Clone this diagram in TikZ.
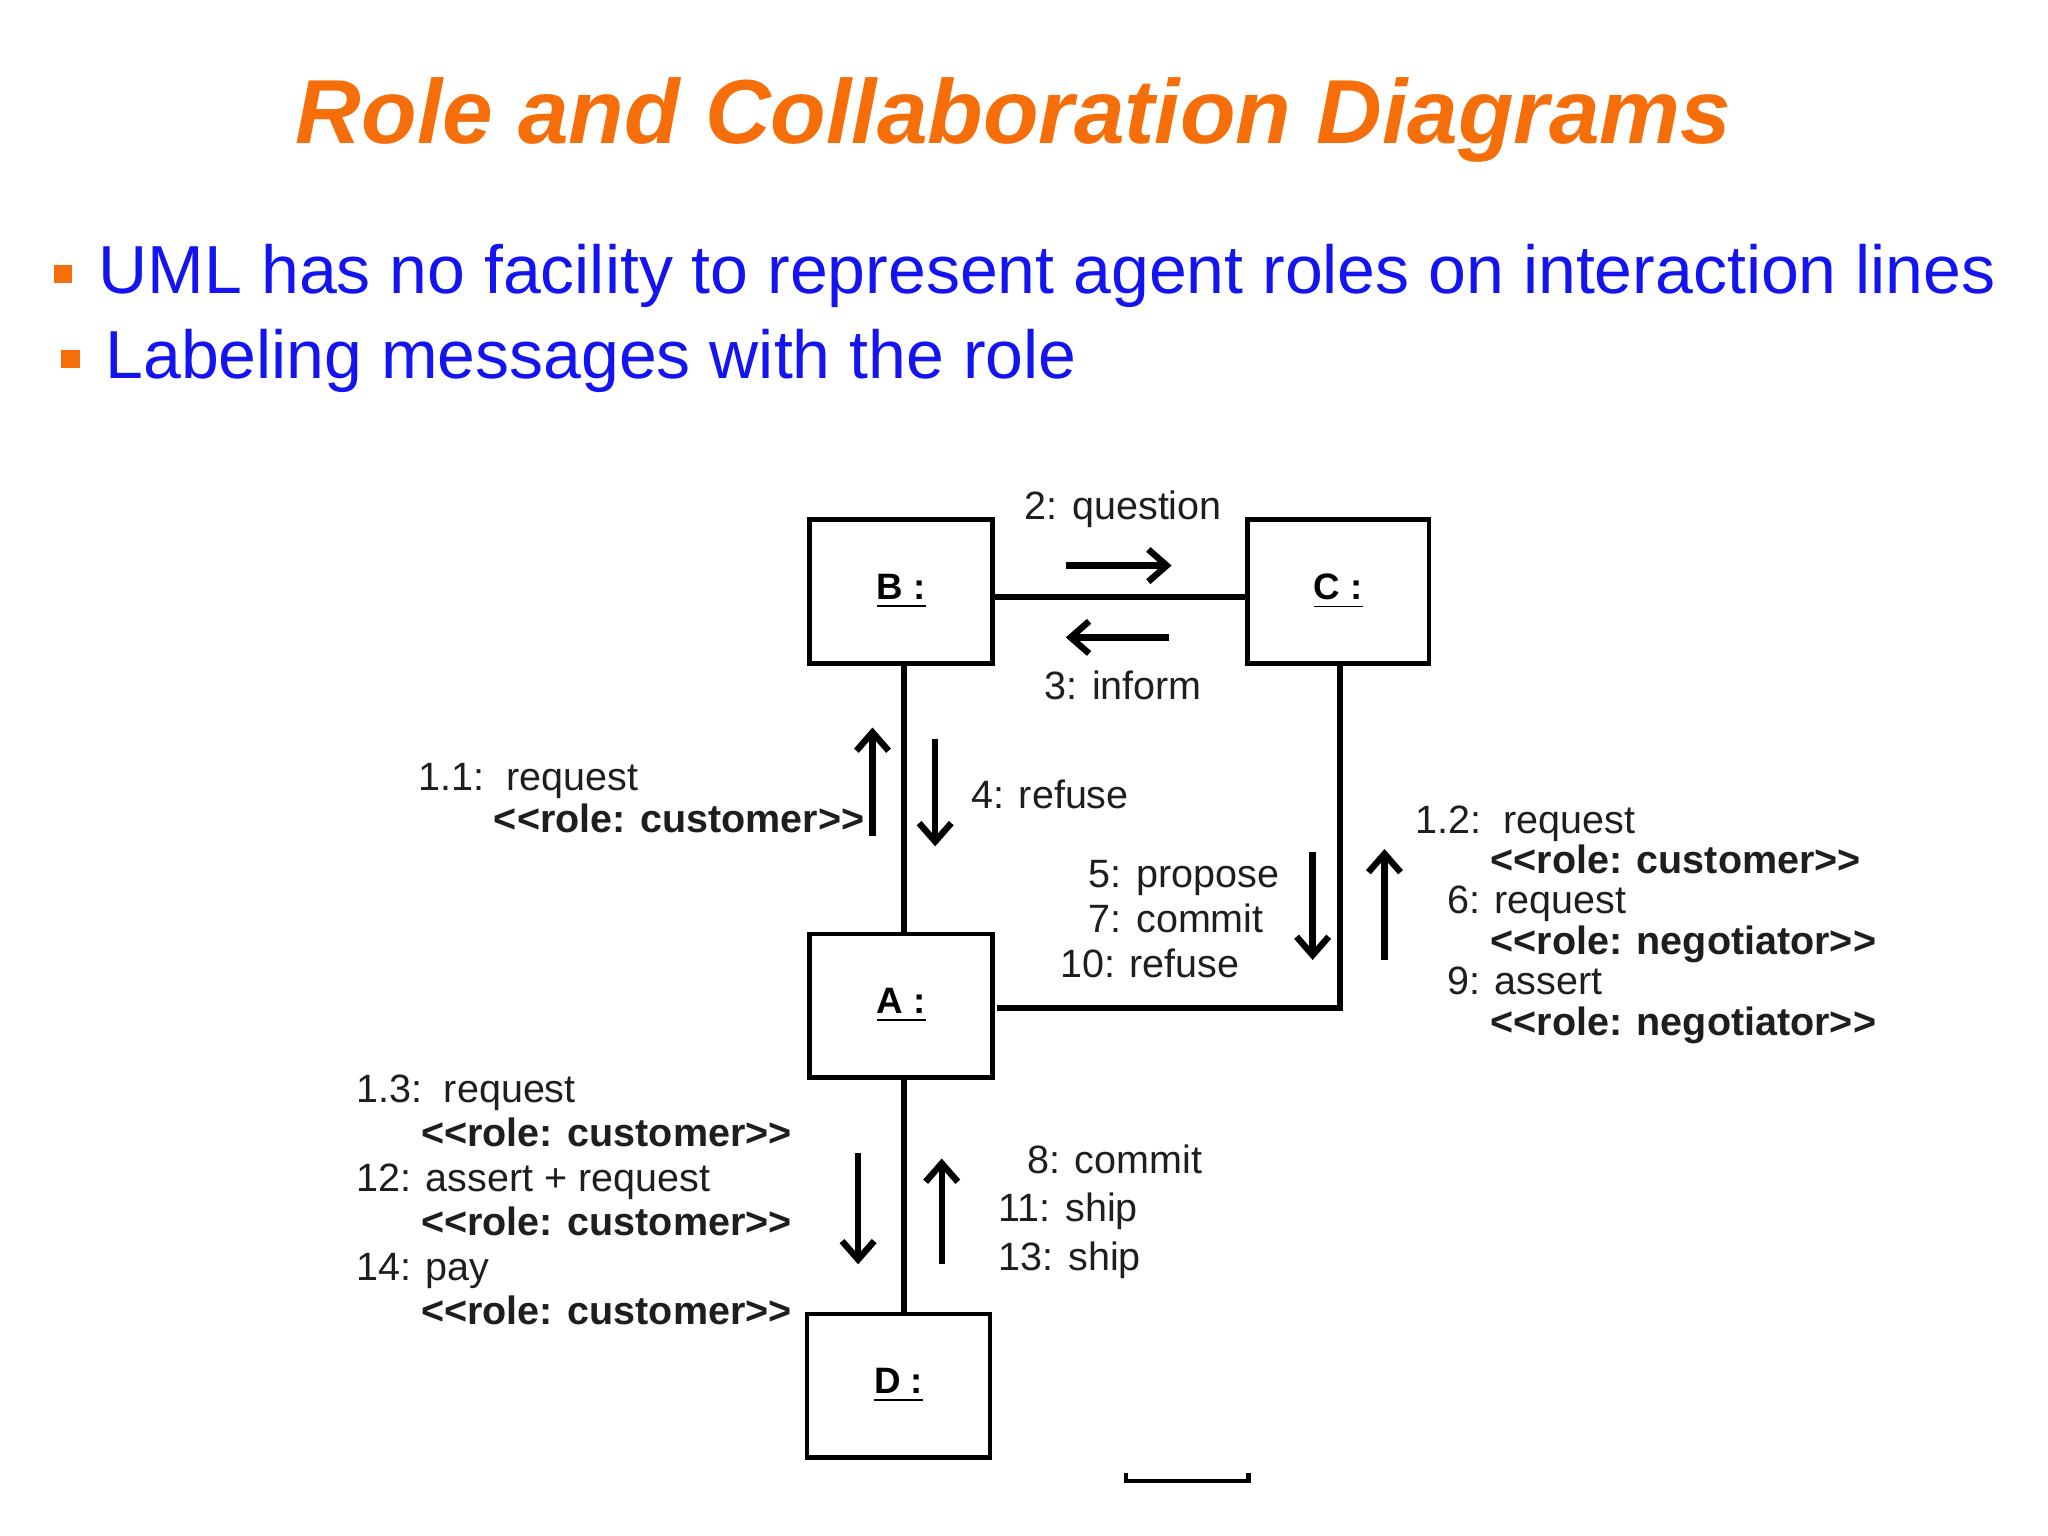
\documentclass[tikz,border=0pt]{standalone}
\usepackage{fontspec}
\setmainfont{Liberation Sans}
\usetikzlibrary{arrows.meta}
\definecolor{ttl}{RGB}{245,110,10}
\definecolor{blu}{RGB}{20,20,240}
\definecolor{txt}{RGB}{30,30,30}
\newcommand{\rl}[1]{\textbf{{<}{<}role: #1{>}{>}}}
\tikzset{
 obj/.style={draw,line width=1pt,minimum width=1.4cm,minimum height=1.1cm,inner sep=0pt,font=\fontsize{8}{9}\selectfont\bfseries},
 conn/.style={line width=1.3pt},
 msg/.style={line width=1.4pt,-{Straight Barb[length=4pt,width=7pt]}},
 lbl/.style={font=\fontsize{8.6}{10.5}\selectfont,text=txt,inner sep=0pt,align=left},
 bul/.style={font=\fontsize{14.8}{16}\selectfont,text=blu,inner sep=0pt,anchor=west}
}
\begin{document}
\begin{tikzpicture}[x=0.01cm,y=-0.01cm]
\useasboundingbox[fill=white] (0,0) rectangle (1568,1176);
\node[font=\fontsize{19.8}{22}\selectfont\bfseries\itshape,text=ttl] (title) at (776,92) {Role and Collaboration Diagrams};
\fill[ttl] (41,203) rectangle (55,217);
\node[bul] (b1) at (75,211) {UML has no facility to represent agent roles on interaction lines};
\fill[ttl] (47,268) rectangle (61,282);
\node[bul] (b2) at (80,276) {Labeling messages with the role};
\node[obj,minimum width=1.4cm] (B) at (690,453) {\underline{B :}};
\node[obj,minimum width=1.39cm] (C) at (1024.5,453) {\underline{C :}};
\node[obj] (A) at (690,770) {\underline{A :}};
\node[obj] (D) at (688,1061) {\underline{D :}};
\draw[conn] (B.east |- 0,457) -- (C.west |- 0,457);
\draw[conn] (692,508) -- (692,715);
\draw[conn] (692,825) -- (692,1006);
\coordinate (corner) at (1026,772);
\draw[conn] (763,772) -- (corner) -- (1026,509);
\draw[msg] (816,433) -- (897,433);
\draw[msg] (895,488) -- (816,488);
\draw[msg] (668,640) -- (668,557);
\draw[msg] (716,566) -- (716,648);
\draw[msg] (1005,652) -- (1005,735);
\draw[msg] (1060,735) -- (1060,650);
\draw[msg] (657,883) -- (657,968);
\draw[msg] (721,968) -- (721,887);
\draw[line width=1pt] (862,1128) -- (862,1134) -- (956,1134) -- (956,1128);
\node[lbl] (l2) at (860,390) {2: question};
\node[lbl] (l3) at (860,525) {3: inform};
\node[lbl,anchor=north west,font=\fontsize{8.6}{9}\selectfont] (l11) at (320,584) {1.1:\ \ request\\\hspace*{1.9em}\rl{customer}};
\node[lbl,anchor=west] (l4) at (743,608) {4: refuse};
\node[lbl,anchor=north east,align=left,font=\fontsize{8.6}{9.8}\selectfont] (l5) at (980,658) {\ \ \,5: propose\\\ \ \,7: commit\\10: refuse};
\node[lbl,anchor=north west,font=\fontsize{8.6}{8.8}\selectfont] (l12) at (1083,616) {1.2:\ \ request\\\hspace*{1.9em}\rl{customer}\\\hspace*{0.8em}6: request\\\hspace*{1.9em}\rl{negotiator}\\\hspace*{0.8em}9: assert\\\hspace*{1.9em}\rl{negotiator}};
\node[lbl,anchor=north west,font=\fontsize{8.6}{9.7}\selectfont] (l13) at (272,822) {1.3:\ \ request\\\hspace*{1.65em}\rl{customer}\\12: assert + request\\\hspace*{1.65em}\rl{customer}\\14: pay\\\hspace*{1.65em}\rl{customer}};
\node[lbl,anchor=north west] (l8) at (764,876) {\ \ \,8: commit\\11: ship\\13: ship};
\end{tikzpicture}
\end{document}
